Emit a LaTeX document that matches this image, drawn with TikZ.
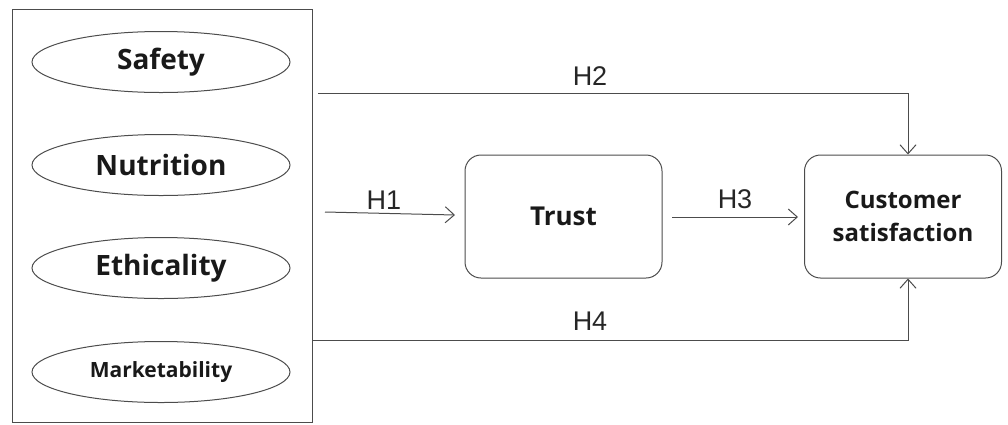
\documentclass[tikz,border=0pt]{standalone}
\usepackage{fontspec}
\setmainfont{Open Sans}
\newfontfamily\hfont{Liberation Sans}
\usetikzlibrary{shapes.geometric,arrows.meta}
\begin{document}
\begin{tikzpicture}[x=1pt,y=-1pt,
  line width=1pt, draw=black!70,
  oval/.style={ellipse, draw=black!70, minimum width=258pt, minimum height=61pt, inner sep=0pt, font=\bfseries\fontsize{28}{30}\selectfont, text=black!90},
  rbox/.style={rectangle, rounded corners=16pt, draw=black!70, minimum width=197pt, minimum height=123pt, inner sep=0pt, align=center, text=black!90},
  hlab/.style={font=\hfont\fontsize{27}{29}\selectfont, text=black!85, anchor=base, inner sep=0pt},
  arr/.style={-{Straight Barb[length=9pt,width=16pt,line width=1pt]}, draw=black!70}
]
\useasboundingbox (0,0) rectangle (1008,424);
\node[draw=black!70, minimum width=300pt, minimum height=413pt, inner sep=0pt] (frame) at (162,215.5) {};
\node[oval] (safety) at (161,62) {Safety};
\node[oval] (nutrition) at (161,165) {Nutrition};
\node[oval] (ethicality) at (161,268) {Ethicality};
\node[oval, font=\bfseries\fontsize{21}{23}\selectfont] (market) at (161,372) {Marketability};
\node[rbox, font=\bfseries\fontsize{26}{28}\selectfont] (trust) at (563.5,216.5) {Trust};
\node[rbox, font=\bfseries\fontsize{24}{33}\selectfont] (cs) at (903,216.5) {Customer\\satisfaction};
\coordinate (h2s) at (318,93);
\coordinate (h2t) at (908,93);
\coordinate (h4s) at (frame.east |- 0,340);
\coordinate (h4t) at (908,340);
\coordinate (h1s) at (325,212);
\coordinate (h1e) at (455,215);
\coordinate (h3s) at (672,217);
\coordinate (h3e) at (798,217);
\draw[arr] (h2s) -- (h2t) -- (h2t |- cs.north);
\draw[arr] (h4s) -- (h4t) -- (h4t |- cs.south);
\draw[arr] (h1s) -- (h1e);
\draw[arr] (h3s) -- (h3e);
\node[hlab] (lh2) at (590,85) {H2};
\node[hlab] (lh1) at (384,209) {H1};
\node[hlab] (lh3) at (735,208) {H3};
\node[hlab] (lh4) at (590,330) {H4};
\end{tikzpicture}
\end{document}
